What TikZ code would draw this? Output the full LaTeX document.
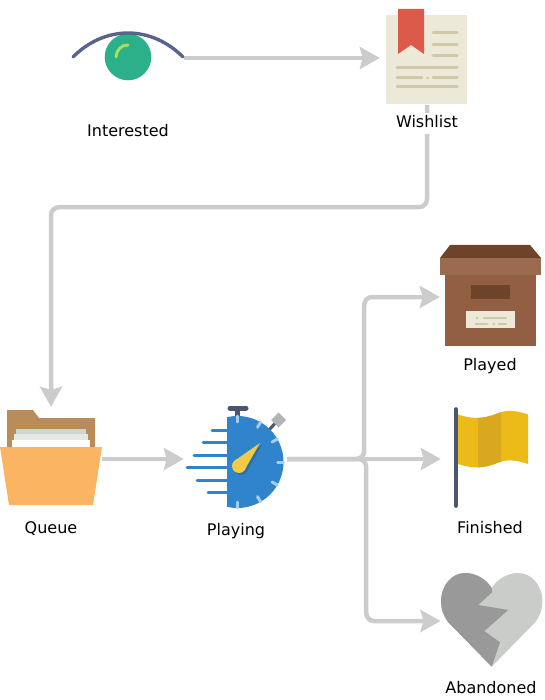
\documentclass[tikz,border=0pt]{standalone}
\usepackage{fontspec}
\setmainfont{DejaVu Sans}
\usetikzlibrary{arrows.meta}
\definecolor{flowgray}{HTML}{CCCCCC}
\definecolor{slate}{HTML}{4A5570}
\definecolor{lidline}{HTML}{59648A}
\definecolor{iris}{HTML}{2BB08A}
\definecolor{glint}{HTML}{A5E05A}
\definecolor{paper}{HTML}{EDE9D8}
\definecolor{ink}{HTML}{CFC9A8}
\definecolor{ribbon}{HTML}{DC5A4A}
\definecolor{folderback}{HTML}{B98C5A}
\definecolor{folderfront}{HTML}{FBB461}
\definecolor{sheetA}{HTML}{CFD5D3}
\definecolor{sheetB}{HTML}{E3E9E7}
\definecolor{boxdark}{HTML}{6D4429}
\definecolor{boxbody}{HTML}{935F42}
\definecolor{boxlid}{HTML}{9B6B4F}
\definecolor{watch}{HTML}{3084CC}
\definecolor{tick}{HTML}{A4CDF0}
\definecolor{needle}{HTML}{F0CB45}
\definecolor{needleshade}{HTML}{2A6FA8}
\definecolor{knob}{HTML}{B0B5B5}
\definecolor{flagmain}{HTML}{ECBB17}
\definecolor{flagband}{HTML}{D9A81F}
\definecolor{heartdark}{HTML}{999999}
\definecolor{heartlight}{HTML}{C9CCC8}
\tikzset{
  iconbox/.style={inner sep=0pt,minimum width=#1},
  flowline/.style={draw=flowgray,line width=4.5pt,rounded corners=8pt,
    -{Stealth[length=20pt,width=22pt,inset=3pt,flowgray]}},
  caption/.style={anchor=base,fill=white,inner xsep=2pt,inner ysep=0pt,text height=15pt,text depth=6pt,font=\fontsize{16}{16}\selectfont},
  inkline/.style={draw=ink,line width=3pt,line cap=round}
}
\begin{document}
\begin{tikzpicture}[x=1pt,y=-1pt]
\useasboundingbox (0,0) rectangle (544,700);

%the places that the connectors run between
\node[iconbox=112pt,minimum height=40pt] (eye) at (128,58) {};
\node[iconbox=82pt,minimum height=94pt] (wishlist) at (427,58) {};
\node[iconbox=102pt,minimum height=96pt] (queue) at (51,459) {};
\node[iconbox=103pt,minimum height=96pt] (playing) at (235.5,459) {};
\node[iconbox=101pt,minimum height=100pt] (played) at (490.5,297) {};
\node[iconbox=100pt,minimum height=100pt] (finished) at (491,459) {};
\node[iconbox=102pt,minimum height=96pt] (abandoned) at (491.7,621) {};

%connectors
\draw[flowline,shorten >=6pt] (eye.east) -- (wishlist.west);
\draw[flowline,shorten >=4pt] (wishlist.south) -- ++(0,102) -| (queue.north);
\draw[flowline] (queue.east) -- (playing.west);
\draw[flowline] (playing.east) -- ++(77,0) |- (played.west);
\draw[flowline] (playing.east) -- (finished.west);
\draw[flowline] (playing.east) -- ++(79,0) |- (abandoned.west);

%eye
\fill[iris] (128,57) circle(23.3);
\draw[glint,line width=3pt,line cap=round] (116,57) .. controls (116.5,50) and (121,45) .. (128,45);
\draw[lidline,line width=3.4pt,line cap=round] (73,57) .. controls (105,25) and (151,25) .. (183,57);

%wishlist page
\fill[paper] (386,15) rectangle (467,104);
\fill[ribbon] (398,9) -- (424,9) -- (424,54) -- (411,45) -- (398,54) -- cycle;
\foreach \y in {33,45,56} \draw[inkline] (433,\y) -- (457,\y);
\foreach \y in {68,87} \draw[inkline] (397,\y) -- (457,\y);
\draw[inkline] (397,78) -- (422,78);
\fill[ink] (427.5,78) circle(1.5);
\draw[inkline] (433,78) -- (457,78);

%folder
\fill[folderback] (7,410) -- (33,410) -- (39,418) -- (95,418) -- (95,460) -- (7,460) -- cycle;
\fill[sheetA] (16,429) rectangle (86,447);
\fill[sheetB] (14,434) rectangle (88,447);
\fill[white] (12,440) rectangle (90,448);
\fill[folderfront] (0,447) -- (102,447) -- (93,505) -- (9,505) -- cycle;

%stopwatch
\def\cx{237.5}
\def\cy{462}
\draw[slate,line width=5pt,line cap=round] (230,408) -- (246,408);
\draw[slate,line width=5pt] (237,408) -- (237,417);
\draw[slate,line width=3pt] (269,430) -- (278,420);
\fill[knob] (278.7,412.5) -- (286.2,420) -- (278.7,427.5) -- (271.2,420) -- cycle;
\begin{scope}
  \clip (227,400) rectangle (300,520);
  \fill[watch] (\cx,\cy) circle(46);
\end{scope}
\foreach \a in {90,60,30,0,-30,-60,-90}
  \draw[tick,line width=3pt,line cap=round] (\cx,\cy) ++(\a:40) -- ++(\a:6);
\foreach \y/\x in {430/212,442/203,455/194,467/187,480/197,492/208}
  \draw[watch,line width=3pt,line cap=round] (\x,\y) -- (227,\y);
\fill[needleshade] (241,468) circle(7);
\fill[needleshade] (262,445) -- (246.2,472.7) -- (235.8,463.3) -- cycle;
\fill[needle] (239,466) circle(7);
\fill[needle] (260,443) -- (244.2,470.7) -- (233.8,461.3) -- cycle;

%box
\fill[boxdark] (450,245) -- (530,245) -- (541,258) -- (440,258) -- cycle;
\fill[boxlid] (440,258) rectangle (541,275);
\fill[boxbody] (445,275) rectangle (536,346);
\fill[boxdark] (471,285) rectangle (510,299);
\fill[paper] (466,311) rectangle (515,328);
\draw[inkline,line width=2.4pt] (484,318) -- (506,318);
\fill[ink] (477,318) circle(1.3);
\draw[inkline,line width=2.4pt] (476,324) -- (487,324);
\fill[ink] (494,324) circle(1.3);
\draw[inkline,line width=2.4pt] (499,324) -- (506,324);

%flag
\fill[flagmain] (458,414.5) .. controls (478,421) and (488,417) .. (500,412.5) .. controls (508,409.5) and (518,411) .. (528,414.5)
  -- (528,464) .. controls (518,460.5) and (508,459) .. (500,462) .. controls (488,466.5) and (478,470.5) .. (458,464) -- cycle;
\begin{scope}
  \clip (478,400) rectangle (501,480);
  \fill[flagband] (458,414.5) .. controls (478,421) and (488,417) .. (500,412.5) .. controls (508,409.5) and (518,411) .. (528,414.5)
    -- (528,464) .. controls (518,460.5) and (508,459) .. (500,462) .. controls (488,466.5) and (478,470.5) .. (458,464) -- cycle;
\end{scope}
\draw[slate,line width=3.6pt,line cap=round] (456,409) -- (456,506);

%broken heart
\fill[heartlight] (491.7,666.7) -- (448,622) .. controls (443,615) and (441,609) .. (441,601.7) .. controls (441,585) and (452,573) .. (465,573) .. controls (476,573) and (486,579) .. (491.7,588)
  .. controls (497.4,579) and (507.4,573) .. (518.4,573) .. controls (531.4,573) and (542.4,585) .. (542.4,601.7) .. controls (542.4,609) and (540.4,615) .. (535.4,622) -- cycle;
\fill[heartdark] (491.7,666.7) -- (448,622) .. controls (443,615) and (441,609) .. (441,601.7) .. controls (441,585) and (452,573) .. (465,573) .. controls (476,573) and (486,579) .. (491.7,588)
  -- (492.3,592) -- (478.3,605) -- (508.3,610) -- (484.3,631) -- (500,642.3) -- cycle;

%captions
\node[caption] (interestedtext) at (128,137) {Interested};
\node[caption] (wishlisttext) at (427,128) {Wishlist};
\node[caption] (queuetext) at (51,533) {Queue};
\node[caption] (playingtext) at (236,535) {Playing};
\node[caption] (playedtext) at (490,370) {Played};
\node[caption] (finishedtext) at (490,533) {Finished};
\node[caption] (abandonedtext) at (491,693) {Abandoned};

\end{tikzpicture}
\end{document}
